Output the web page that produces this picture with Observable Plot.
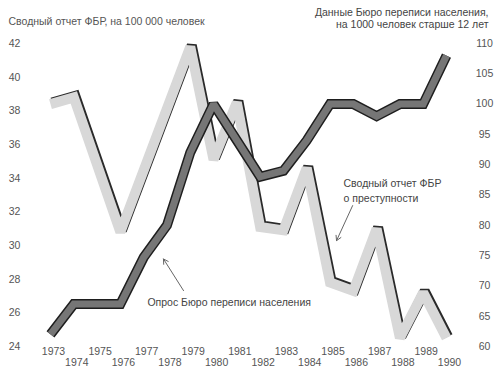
<!DOCTYPE html>
<html>
<head>
<meta charset="utf-8">
<script src="https://cdn.jsdelivr.net/npm/d3@7"></script>
<script src="https://cdn.jsdelivr.net/npm/@observablehq/plot@0.6"></script>
<style>
  html, body { margin: 0; padding: 0; background: #fff; }
  #chart { width: 499px; height: 376px; }
</style>
</head>
<body>
<div id="chart"></div>
<script>
// ---- Data ----
const fbiYears = [1973, 1974, 1976, 1979, 1980, 1981, 1982, 1983, 1984, 1985, 1986, 1987, 1988, 1989, 1990];
const fbiRate  = [38.4, 38.8, 30.8, 41.8, 35.1, 38.5, 31.1, 30.9, 34.6, 27.8, 27.3, 31.0, 24.5, 27.2, 24.5];

const censusYears = [1973, 1974, 1975, 1976, 1977, 1978, 1979, 1980, 1981, 1982, 1983, 1984, 1985, 1986, 1987, 1988, 1989, 1990];
const censusRate  = [62, 67, 67, 67, 74.7, 80, 92, 100, 94, 88, 89, 94, 100, 100, 98, 100, 100, 108];

const leftTicks  = [24, 26, 28, 30, 32, 34, 36, 38, 40, 42];
const rightTicks = [60, 65, 70, 75, 80, 85, 90, 95, 100, 105, 110];
const oddYears   = [1973, 1975, 1977, 1979, 1981, 1983, 1985, 1987, 1989];
const evenYears  = [1974, 1976, 1978, 1980, 1982, 1984, 1986, 1988, 1990];

const titleLeft   = "Сводный отчет ФБР, на 100 000 человек";
const titleRight1 = "Данные Бюро переписи населения,";
const titleRight2 = "на 1000 человек старше 12 лет";

const noteText  = ["Опрос Бюро переписи населения", "Сводный отчет ФБР", "о преступности"];
const noteYear  = [1977.16, 1985.58, 1985.58];
const noteValue = [26.6, 33.68, 32.79];

const arrowFromYear  = [1978.71, 1985.97];
const arrowFromValue = [27.32, 32.37];
const arrowToYear    = [1977.85, 1985.28];
const arrowToValue   = [29.2, 30.29];

// ---- Dual axis mapping: census (60..110) onto left scale (24..42) ----
const toLeft = v => 24 + (v - 60) * (18 / 50);
const fromLeft = d => Math.round(60 + (d - 24) * (50 / 18));

const fbi = fbiYears.map((y, i) => ({year: y, value: fbiRate[i]}));
const census = censusYears.map((y, i) => ({year: y, value: toLeft(censusRate[i])}));
const notes = noteText.map((t, i) => ({text: t, year: noteYear[i], value: noteValue[i]}));
const arrows = arrowFromYear.map((_, i) => ({x1: arrowFromYear[i], y1: arrowFromValue[i], x2: arrowToYear[i], y2: arrowToValue[i]}));

const font = "'Liberation Sans', Arial, sans-serif";
const txt = "#555";
const join = {strokeLinejoin: "miter", strokeMiterlimit: 2, strokeLinecap: "butt"};

const chart = Plot.plot({
  width: 499,
  height: 376,
  marginTop: 43,
  marginBottom: 30,
  marginLeft: 50,
  marginRight: 53,
  x: {domain: [1973, 1990], label: null},
  y: {domain: [24, 42], label: null},
  style: {fontFamily: font, fontSize: "10.5px", color: txt, background: "#fff", overflow: "visible"},
  marks: [
    // left axis
    Plot.axisY({ticks: leftTicks, tickSize: 0, tickPadding: 36, textAnchor: "middle", label: null, fill: txt}),
    // right axis (census)
    Plot.axisY({anchor: "right", ticks: rightTicks.map(toLeft), tickFormat: fromLeft, tickSize: 0, tickPadding: 38, textAnchor: "middle", label: null, fill: txt}),
    // x axis, staggered
    Plot.axisX({ticks: oddYears, tickFormat: d => String(d), tickSize: 0, tickPadding: 1.5, dx: 3, label: null, fill: txt}),
    Plot.axisX({ticks: evenYears, tickFormat: d => String(d), tickSize: 0, tickPadding: 12.5, dx: 3, label: null, fill: txt}),

    // FBI series: light band with dark edge
    Plot.line(fbi, {x: "year", y: "value", stroke: "#2a2a2a", strokeWidth: 10, dx: 1.5, dy: -1.5, ...join}),
    Plot.line(fbi, {x: "year", y: "value", stroke: "#d8d8d8", strokeWidth: 10, ...join}),

    // Census series: dark band with black outline
    Plot.line(census, {x: "year", y: "value", stroke: "#1e1e1e", strokeWidth: 10, ...join}),
    Plot.line(census, {x: "year", y: "value", stroke: "#767676", strokeWidth: 7, ...join}),

    // annotations
    Plot.arrow(arrows, {x1: "x1", y1: "y1", x2: "x2", y2: "y2", stroke: "#666", strokeWidth: 1, headLength: 8, bend: 0}),
    Plot.text(notes, {x: "year", y: "value", text: "text", textAnchor: "start", fill: "#444", fontSize: 10.5}),

    // titles
    Plot.text([titleLeft], {frameAnchor: "top-left", dx: -42, dy: -22, textAnchor: "start", lineAnchor: "middle", fill: txt, fontSize: 10.5}),
    Plot.text([titleRight1], {frameAnchor: "top-right", dx: 42, dy: -31, textAnchor: "end", lineAnchor: "middle", fill: "#444", fontSize: 10.5}),
    Plot.text([titleRight2], {frameAnchor: "top-right", dx: 42, dy: -19, textAnchor: "end", lineAnchor: "middle", fill: "#444", fontSize: 10.5})
  ]
});
document.getElementById("chart").appendChild(chart);
</script>
</body>
</html>
